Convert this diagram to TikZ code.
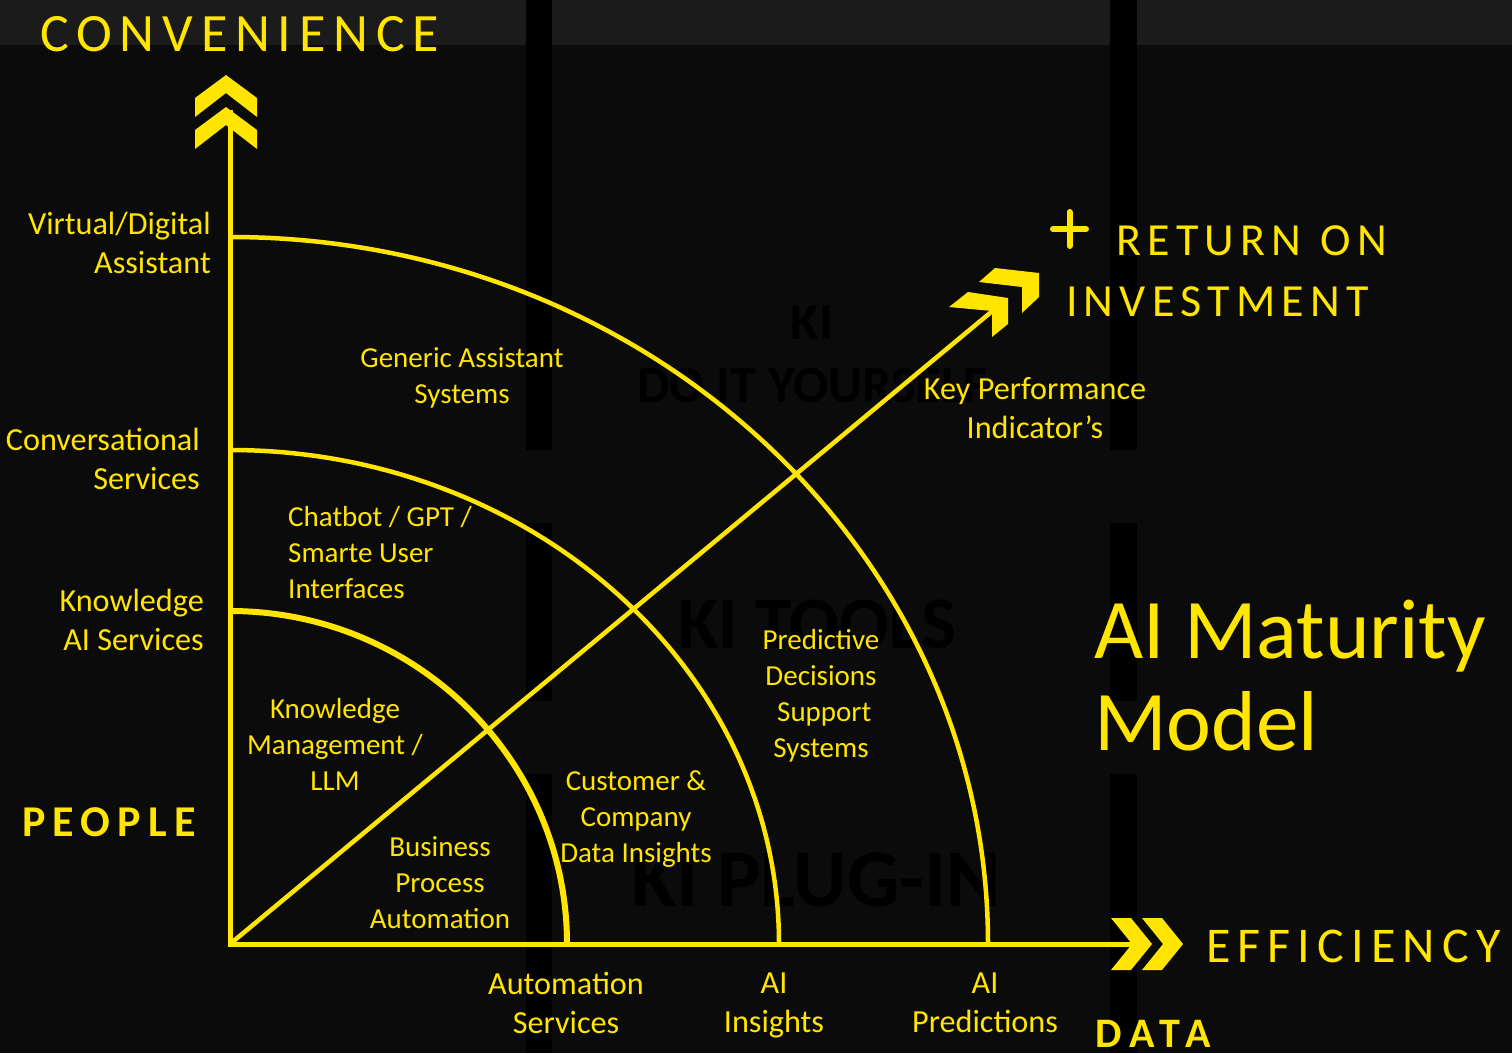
\documentclass[tikz,border=0pt]{standalone}
\usepackage{fontspec}
\setmainfont{Carlito}
\newfontfamily\spcA[LetterSpace=14.5]{Carlito}
\newfontfamily\spcB[LetterSpace=13.5]{Carlito}
\newfontfamily\spcC[LetterSpace=14.3]{Carlito}
\newfontfamily\spcD[LetterSpace=16.5]{Carlito}
\newfontfamily\spcE[LetterSpace=20]{Carlito}
\definecolor{ky}{HTML}{FFE500}
\definecolor{bgc}{HTML}{0B0B0B}
\definecolor{stripc}{HTML}{1B1B1B}
\tikzset{
  lbl/.style={text=ky, font=\fontsize{29}{36}\selectfont, inner sep=0pt, align=center},
  axl/.style={text=ky, font=\fontsize{32.2}{39}\selectfont, inner sep=0pt, align=center},
  faint/.style={text=black, inner sep=0pt, align=center},
  axisline/.style={draw=ky, line width=5pt},
  arcline/.style={draw=ky, line width=4.5pt},
  chev/.style={fill=ky},
  title/.style={text=ky, inner sep=0pt, anchor=base west}
}
\begin{document}
\begin{tikzpicture}[x=1pt,y=-1pt]
\fill[bgc] (0,0) rectangle (1512,1053);
\useasboundingbox (0,0) rectangle (1512,1053);
\fill[stripc] (0,0) rectangle (1512,45);
\foreach \xa/\xb in {526/552,1110/1137}{
  \fill[black] (\xa,0) rectangle (\xb,450);
  \fill[black] (\xa,523) rectangle (\xb,701);
  \fill[black] (\xa,774) rectangle (\xb,1053);
}
% faint background texts
\node[faint, font=\fontsize{52}{63}\selectfont\bfseries] (kidiy) at (812,354) {KI\\DO IT YOURSELF};
\node[faint, font=\fontsize{74}{80}\selectfont\bfseries] (kitools) at (817,624) {KI TOOLS};
\node[faint, font=\fontsize{82}{90}\selectfont\bfseries] (kiplug) at (816,880) {KI PLUG-IN};

% coordinates
\coordinate (O) at (230,944);
\coordinate (ytip) at (230,110);
\coordinate (xtip) at (1135,944);
\coordinate (dtip) at (996,308);

% arcs
\draw[arcline, line width=6pt] (O) ++(0,-333) coordinate (a1s) arc[start angle=-90, end angle=0, x radius=337, y radius=333] coordinate (a1e);
\draw[arcline] (O) ++(0,-494) coordinate (a2s) arc[start angle=-90, end angle=0, x radius=549, y radius=494] coordinate (a2e);
\draw[arcline] (O) ++(0,-707) coordinate (a3s) arc[start angle=-90, end angle=0, x radius=758, y radius=707] coordinate (a3e);

% axes
\draw[axisline] (O) -- (ytip);
\draw[axisline] ([xshift=-2.5pt]O) -- (xtip);
\draw[draw=ky, line width=4.5pt] (O) -- (dtip);

% chevrons vertical
\fill[chev] (226,75) -- (257,98) -- (257,117) -- (226,93) -- (195,117) -- (195,98) -- cycle;
\fill[chev] (226,107) -- (257,130) -- (257,149) -- (226,125) -- (195,149) -- (195,130) -- cycle;
% chevrons horizontal
\fill[chev] (1152,944) -- (1131,918) -- (1111,918) -- (1132,944) -- (1111,970) -- (1131,970) -- cycle;
\fill[chev] (1183,944) -- (1162,918) -- (1142,918) -- (1163,944) -- (1142,970) -- (1162,970) -- cycle;
% chevrons diagonal
\fill[chev] (1008,298) -- (968,292) -- (949,307) -- (992,311) -- (992,337) -- (1008,324) -- cycle;
\fill[chev] (1039,273) -- (995,268) -- (979,282) -- (1022,287) -- (1022,313) -- (1039,297) -- cycle;

% plus
\draw[draw=ky, line width=6pt, line cap=round] (1053,229) -- (1086,229) (1069.5,212) -- (1069.5,246);

% titles
\node[title, font=\spcA\fontsize{54}{60}\selectfont] (conv) at (40,51) {CONVENIENCE};
\node[title, font=\spcB\fontsize{46}{50}\selectfont] (roi1) at (1116,255) {RETURN \hspace{3pt}ON};
\node[title, font=\spcB\fontsize{46}{50}\selectfont] (roi2) at (1066,316) {INVESTMENT};
\node[title, font=\spcC\fontsize{50}{55}\selectfont] (eff) at (1206,962) {EFFICIENCY};
\node[title, font=\spcD\bfseries\fontsize{44}{50}\selectfont] (people) at (22,836) {PEOPLE};
\node[title, font=\spcE\bfseries\fontsize{42}{50}\selectfont] (data) at (1095,1047) {DATA};
\node[title, font=\fontsize{85}{92}\selectfont, align=left] (aimm) at (1094,750) {AI Maturity\\Model};

% y-axis labels
\node[axl, align=right, anchor=east] (vda) at (211,243) {Virtual/Digital\\Assistant};
\node[axl, align=right, anchor=east] (cs) at (200,459) {Conversational\\Services};
\node[axl, align=right, anchor=east] (kai) at (204,620) {Knowledge\\AI Services};

% region labels
\node[lbl] (gas) at (462,378) {Generic Assistant\\Systems};
\node[lbl, align=left, anchor=west] (chat) at (288,553) {Chatbot / GPT /\\Smarte User\\Interfaces};
\node[lbl] (kml) at (335,744) {Knowledge\\Management /\\LLM};
\node[lbl] (bpa) at (440,883) {Business\\Process\\Automation};
\node[lbl] (ccd) at (636,819) {Customer \&\\Company\\Data Insights};
\node[lbl] (pds) at (821,696) {Predictive\\Decisions\\\ Support\\Systems};
\node[axl] (kpi) at (1035,408) {Key Performance\\Indicator’s};

% x-axis labels
\node[axl] (as) at (566,1003) {Automation\\Services};
\node[axl] (aii) at (774,1005) {AI\\Insights};
\node[axl] (aip) at (985,1003) {AI\\Predictions};
\end{tikzpicture}
\end{document}
